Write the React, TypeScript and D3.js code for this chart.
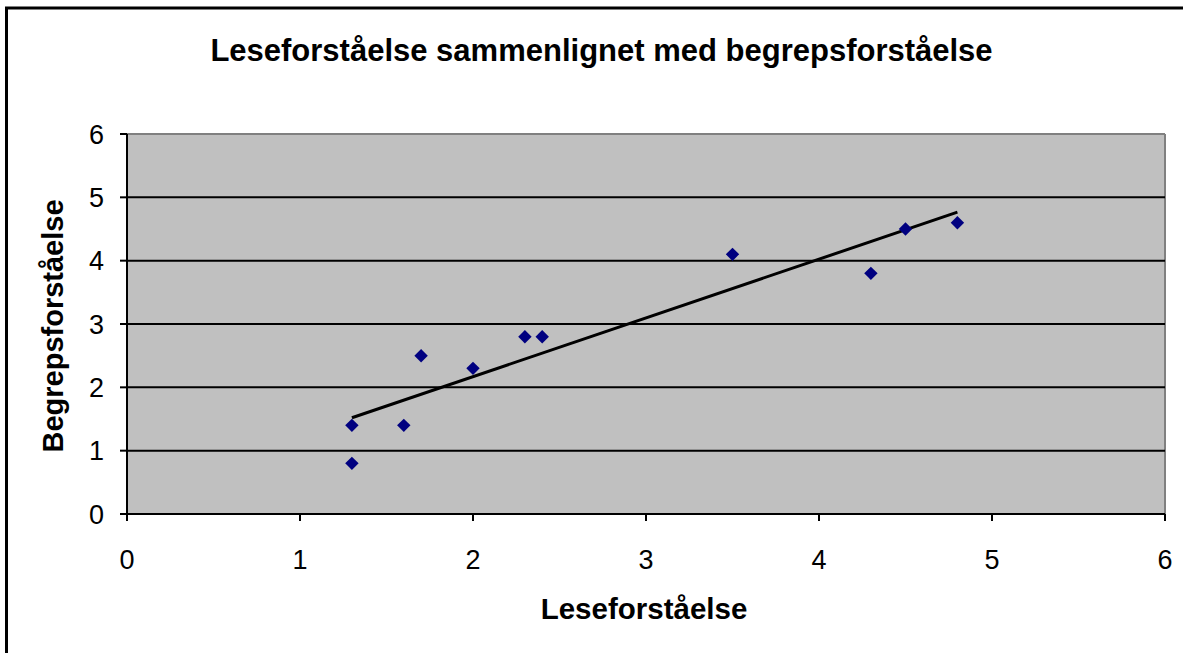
import React from "react";
import * as d3 from "d3";

const title = "Leseforståelse sammenlignet med begrepsforståelse";
const xLabel = "Leseforståelse";
const yLabel = "Begrepsforståelse";
const xTicks = [0, 1, 2, 3, 4, 5, 6];
const yTicks = [0, 1, 2, 3, 4, 5, 6];
const xValues = [1.3, 1.3, 1.6, 1.7, 2.0, 2.3, 2.4, 3.5, 4.3, 4.5, 4.8];
const yValues = [1.4, 0.8, 1.4, 2.5, 2.3, 2.8, 2.8, 4.1, 3.8, 4.5, 4.6];

const W = 1183;
const H = 653;
const plot = { left: 127, right: 1165, top: 134, bottom: 514 };
const FONT = "Liberation Sans, Arial, sans-serif";

export default function App() {
  const x = d3.scaleLinear().domain([0, 6]).range([plot.left, plot.right]);
  const y = d3.scaleLinear().domain([0, 6]).range([plot.bottom, plot.top]);

  const mx = d3.mean(xValues)!;
  const my = d3.mean(yValues)!;
  let sxy = 0, sxx = 0;
  xValues.forEach((xv, i) => {
    sxy += (xv - mx) * (yValues[i] - my);
    sxx += (xv - mx) * (xv - mx);
  });
  const slope = sxy / sxx;
  const intercept = my - slope * mx;
  const [x0, x1] = d3.extent(xValues) as [number, number];
  const trend = d3.line<number>().x((d) => x(d)).y((d) => y(intercept + slope * d))([x0, x1]);

  const diamond = d3.symbol().type(d3.symbolSquare).size(90)();

  return (
    <svg width={W} height={H} style={{ position: "absolute", left: 0, top: 0, background: "#fff" }} fontFamily={FONT}>
      <rect x={6.5} y={8} width={1300} height={800} fill="#fff" stroke="#000" strokeWidth={3} />
      <text x={601.5} y={61} textAnchor="middle" fontSize={31} fontWeight="bold">{title}</text>
      <rect x={plot.left} y={plot.top} width={plot.right - plot.left} height={plot.bottom - plot.top} fill="#C0C0C0" />
      <line x1={plot.left} x2={plot.right} y1={plot.top} y2={plot.top} stroke="#808080" strokeWidth={2} />
      <line x1={plot.right} x2={plot.right} y1={plot.top} y2={plot.bottom} stroke="#808080" strokeWidth={2} />
      {yTicks.filter((t) => t > 0 && t < 6).map((t) => (
        <line key={"g" + t} x1={plot.left} x2={plot.right} y1={y(t)} y2={y(t)} stroke="#000" strokeWidth={2} />
      ))}
      <line x1={plot.left} x2={plot.left} y1={plot.top} y2={plot.bottom} stroke="#000" strokeWidth={2} />
      <line x1={plot.left} x2={plot.right} y1={plot.bottom} y2={plot.bottom} stroke="#000" strokeWidth={2} />
      {yTicks.map((t) => (
        <g key={"yt" + t}>
          <line x1={plot.left - 7} x2={plot.left} y1={y(t)} y2={y(t)} stroke="#000" strokeWidth={2} />
          <text x={104} y={y(t)} dy="0.36em" textAnchor="end" fontSize={27}>{t}</text>
        </g>
      ))}
      {xTicks.map((t) => (
        <g key={"xt" + t}>
          <line x1={x(t)} x2={x(t)} y1={plot.bottom} y2={plot.bottom + 7} stroke="#000" strokeWidth={2} />
          <text x={x(t)} y={569} textAnchor="middle" fontSize={27}>{t}</text>
        </g>
      ))}
      {trend && <path d={trend} fill="none" stroke="#000" strokeWidth={3} />}
      {xValues.map((xv, i) => (
        <path key={"p" + i} d={diamond!} transform={`translate(${x(xv)},${y(yValues[i])}) rotate(45)`} fill="#000080" />
      ))}
      <text x={644} y={619} textAnchor="middle" fontSize={29.5} fontWeight="bold">{xLabel}</text>
      <text transform={`translate(63,326) rotate(-90)`} textAnchor="middle" fontSize={29} fontWeight="bold">{yLabel}</text>
    </svg>
  );
}
